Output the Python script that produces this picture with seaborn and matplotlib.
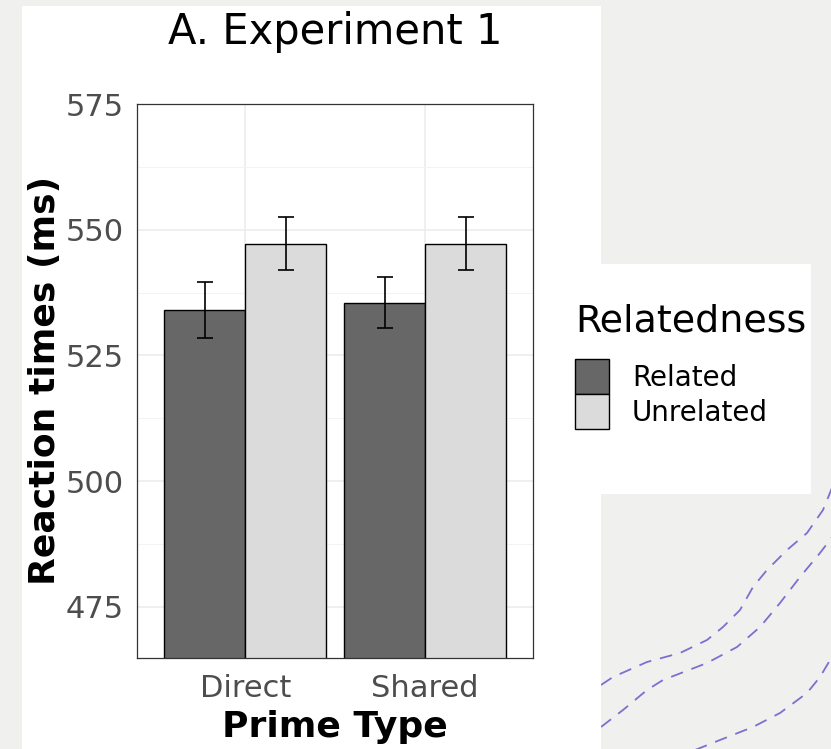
import matplotlib
matplotlib.use("Agg")
import matplotlib.pyplot as plt
from matplotlib.lines import Line2D
from matplotlib.patches import Rectangle
import numpy as np
import pandas as pd
import seaborn as sns

# === data ===
prime_types = ["Direct", "Shared"]
relatedness_levels = ["Related", "Unrelated"]
rt_related = [534.0, 535.5]
rt_unrelated = [547.2, 547.2]
se_related = [5.5, 5.1]
se_unrelated = [5.25, 5.25]
y_ticks = [475, 500, 525, 550, 575]

# --- background decoration (pixel coords, dashed lines bottom right) ---
deco_a_x = [601, 613, 647, 680, 707, 723, 740, 753, 767, 787, 807, 823, 836]
deco_a_y = [685, 677, 662, 653, 640, 627, 610, 587, 570, 550, 533, 510, 478]
deco_b_x = [601, 623, 647, 663, 707, 737, 760, 780, 800, 820, 836]
deco_b_y = [727, 710, 690, 680, 663, 647, 627, 603, 577, 553, 532]
deco_c_x = [690, 720, 753, 780, 807, 820, 836]
deco_c_y = [752, 740, 727, 713, 693, 677, 650]

W, H = 831, 749
BG = "#F0F0EF"
DECO = "#7B70CF"
BAR_COLORS = ["#676767", "#DBDBDB"]

sns.set_style("white")
plt.rcParams["font.family"] = ["DejaVu Sans"]
plt.rcParams["text.color"] = "black"

df = pd.DataFrame({
    "prime": prime_types * 2,
    "relatedness": [relatedness_levels[0]] * 2 + [relatedness_levels[1]] * 2,
    "rt": rt_related + rt_unrelated,
})
errs = {relatedness_levels[0]: se_related, relatedness_levels[1]: se_unrelated}

fig = plt.figure(figsize=(W / 100, H / 100), dpi=100)
fig.patch.set_facecolor(BG)


def px_rect(x0, y0, x1, y1):
    return Rectangle((x0 / W, 1 - y1 / H), (x1 - x0) / W, (y1 - y0) / H,
                     transform=fig.transFigure, facecolor="white",
                     edgecolor="none", zorder=-5)


fig.add_artist(px_rect(22, 6, 601, H + 2))
fig.add_artist(px_rect(601, 264, 811, 494))
for xs, ys in [(deco_a_x, deco_a_y), (deco_b_x, deco_b_y), (deco_c_x, deco_c_y)]:
    fig.add_artist(Line2D(np.array(xs) / W, 1 - np.array(ys) / H,
                          transform=fig.transFigure, color=DECO, lw=1.3,
                          dashes=(7, 5), zorder=-6))

# axes placed like the original panel
ax_l, ax_r, ax_t, ax_b = 137.3, 533.0, 103.5, 657.7
ax = fig.add_axes([ax_l / W, 1 - ax_b / H, (ax_r - ax_l) / W, (ax_b - ax_t) / H])

sns.barplot(data=df, x="prime", y="rt", hue="relatedness",
            order=prime_types, hue_order=relatedness_levels,
            palette=BAR_COLORS, edgecolor="black", linewidth=1.0,
            width=0.9, errorbar=None, ax=ax, zorder=2)

# error bars on top of each bar
for cont, level in zip(ax.containers, relatedness_levels):
    xs = [b.get_x() + b.get_width() / 2 for b in cont]
    ys = [b.get_height() for b in cont]
    ax.errorbar(xs, ys, yerr=errs[level], fmt="none", ecolor="black",
                elinewidth=1.2, capsize=6.1, capthick=1.2, zorder=3)

ax.set_ylim(464.86, 575.1)
ax.set_xlim(-0.6, 1.6)
ax.set_yticks(y_ticks)
ax.set_yticks(list(np.array(y_ticks[:-1]) + 12.5), minor=True)
ax.grid(which="major", axis="both", color="#EBEBEB", lw=1.1, zorder=0)
ax.grid(which="minor", axis="y", color="#F3F3F3", lw=0.7, zorder=0)
ax.set_axisbelow(True)

for sp in ax.spines.values():
    sp.set_visible(True)
    sp.set_color("#333333")
    sp.set_linewidth(0.9)

ax.tick_params(axis="both", which="major", length=5, width=0.9, color="#333333",
               labelsize=22, labelcolor="#4D4D4D")
ax.tick_params(axis="x", pad=7)
ax.tick_params(axis="y", pad=4.5)
ax.tick_params(axis="y", which="minor", length=0)

ax.set_title("A. Experiment 1", fontsize=30, pad=43, color="black")
ax.set_xlabel("Prime Type", fontsize=26, fontweight="bold", color="black")
ax.set_ylabel("Reaction times (ms)", fontsize=26, fontweight="bold", color="black")
ax.xaxis.set_label_coords(0.5, -0.094)
ax.yaxis.set_label_coords(-0.19, 0.5)

sns.move_legend(ax, loc="upper left",
                bbox_to_anchor=(575 / W, 1 - 304 / H),
                bbox_transform=fig.transFigure,
                title="Relatedness", title_fontsize=27.4, fontsize=20,
                frameon=False, borderpad=0.0, borderaxespad=0.0,
                handlelength=1.22, handleheight=1.56, labelspacing=0.0,
                handletextpad=0.83, alignment="left")
leg = ax.get_legend()
leg.get_title().set_color("black")
leg._legend_box.sep = 13.7  # gap between legend title and keys

fig.savefig("out.png", dpi=100)
